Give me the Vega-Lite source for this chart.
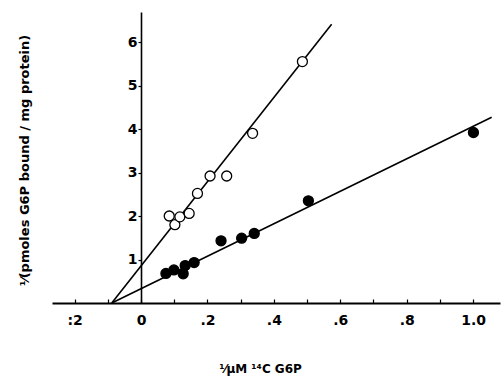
{
  "$schema": "https://vega.github.io/schema/vega-lite/v6.json",
  "width": 448,
  "height": 291,
  "autosize": {"type": "none"},
  "padding": {"left": 52, "top": 12, "right": 1, "bottom": 89},
  "background": "white",
  "config": {"view": {"stroke": null}, "font": "DejaVu Sans"},
  "data": {
    "values": [
      {"kind": "line", "series": "open", "x": -0.088, "y": 0},
      {"kind": "line", "series": "open", "x": 0.574, "y": 6.41},
      {"kind": "line", "series": "filled", "x": -0.088, "y": 0},
      {"kind": "line", "series": "filled", "x": 1.056, "y": 4.27},
      {"kind": "point", "series": "open", "x": 0.085, "y": 2.0},
      {"kind": "point", "series": "open", "x": 0.102, "y": 1.8},
      {"kind": "point", "series": "open", "x": 0.117, "y": 1.98},
      {"kind": "point", "series": "open", "x": 0.145, "y": 2.06},
      {"kind": "point", "series": "open", "x": 0.17, "y": 2.52},
      {"kind": "point", "series": "open", "x": 0.208, "y": 2.92},
      {"kind": "point", "series": "open", "x": 0.258, "y": 2.92},
      {"kind": "point", "series": "open", "x": 0.336, "y": 3.9},
      {"kind": "point", "series": "open", "x": 0.486, "y": 5.55},
      {"kind": "point", "series": "filled", "x": 0.075, "y": 0.68},
      {"kind": "point", "series": "filled", "x": 0.099, "y": 0.76},
      {"kind": "point", "series": "filled", "x": 0.127, "y": 0.67},
      {"kind": "point", "series": "filled", "x": 0.133, "y": 0.86},
      {"kind": "point", "series": "filled", "x": 0.16, "y": 0.93},
      {"kind": "point", "series": "filled", "x": 0.241, "y": 1.43},
      {"kind": "point", "series": "filled", "x": 0.303, "y": 1.49},
      {"kind": "point", "series": "filled", "x": 0.341, "y": 1.6},
      {"kind": "point", "series": "filled", "x": 0.504, "y": 2.35},
      {"kind": "point", "series": "filled", "x": 1.001, "y": 3.92}
    ]
  },
  "encoding": {
    "x": {
      "field": "x",
      "type": "quantitative",
      "scale": {"domain": [-0.268, 1.081], "nice": false, "zero": false},
      "axis": {
        "values": [-0.2, -0.1, 0, 0.1, 0.2, 0.3, 0.4, 0.5, 0.6, 0.7, 0.8, 0.9, 1.0],
        "labelExpr": "round(datum.value*10)%2!=0 ? '' : (datum.value<0 ? ':2' : (datum.value==0 ? '0' : (datum.value>=0.99 ? '1.0' : replace(format(datum.value,'.1f'),'0.','.'))))",
        "grid": false,
        "domainColor": "black",
        "domainWidth": 2,
        "tickColor": "black",
        "tickSize": -4,
        "tickWidth": 1.2,
        "labelPadding": 14,
        "labelFont": "DejaVu Sans",
        "labelFontWeight": "bold",
        "labelFontSize": 14,
        "labelColor": "black",
        "title": "¹⁄μM ¹⁴C G6P",
        "titleFont": "DejaVu Sans",
        "titleFontWeight": "bold",
        "titleFontSize": 12,
        "titleColor": "black",
        "titleX": 208,
        "titleY": 65,
        "titleBaseline": "middle"
      }
    },
    "y": {
      "field": "y",
      "type": "quantitative",
      "scale": {"domain": [0, 6.69], "nice": false, "zero": false},
      "axis": {
        "values": [1, 2, 3, 4, 5, 6],
        "offset": -89,
        "grid": false,
        "domainColor": "black",
        "domainWidth": 1.6,
        "tickColor": "black",
        "tickSize": 3,
        "tickWidth": 1.2,
        "labelPadding": 1,
        "labelFont": "DejaVu Sans",
        "labelFontWeight": "bold",
        "labelFontSize": 14,
        "labelColor": "black",
        "title": "¹⁄(pmoles G6P bound / mg protein)",
        "titleFont": "DejaVu Sans",
        "titleFontWeight": "bold",
        "titleFontSize": 13,
        "titleColor": "black",
        "titleX": -117,
        "titleY": 148,
        "titleBaseline": "middle",
        "titleAngle": -90
      }
    }
  },
  "layer": [
    {
      "transform": [{"filter": "datum.kind === 'line'"}],
      "mark": {"type": "line", "color": "black", "strokeWidth": 1.6},
      "encoding": {"detail": {"field": "series"}}
    },
    {
      "transform": [{"filter": "datum.kind === 'point'"}],
      "mark": {"type": "circle", "size": 100, "stroke": "black", "strokeWidth": 1.3, "opacity": 1},
      "encoding": {
        "fill": {
          "field": "series",
          "type": "nominal",
          "scale": {"domain": ["open", "filled"], "range": ["white", "black"]},
          "legend": null
        }
      }
    }
  ]
}
